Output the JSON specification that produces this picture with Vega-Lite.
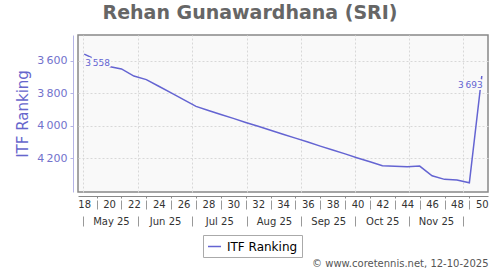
{
  "$schema": "https://vega.github.io/schema/vega-lite/v6.json",
  "width": 410,
  "height": 157,
  "autosize": {"type": "none"},
  "padding": {"left": 78, "top": 35, "right": 12, "bottom": 78},
  "background": "#ffffff",
  "config": {
    "font": "DejaVu Sans",
    "locale": {"number": {"decimal": ".", "thousands": "\u2009", "grouping": [3], "currency": ["", ""]}},
    "view": {"fill": "#f9f9f9", "stroke": "#888888", "strokeWidth": 1.5}
  },
  "title": {
    "text": "Rehan Gunawardhana (SRI)",
    "font": "DejaVu Sans",
    "fontSize": 19,
    "fontWeight": "bold",
    "color": "#666666",
    "anchor": "middle",
    "dx": -33,
    "dy": 17,
    "baseline": "bottom",
    "offset": 10
  },
  "data": {
    "values": [
      {"week": 18, "rank": 3558},
      {"week": 19, "rank": 3593},
      {"week": 20, "rank": 3634},
      {"week": 21, "rank": 3649},
      {"week": 22, "rank": 3693},
      {"week": 23, "rank": 3715},
      {"week": 24, "rank": 3756},
      {"week": 25, "rank": 3797},
      {"week": 26, "rank": 3838},
      {"week": 27, "rank": 3880},
      {"week": 28, "rank": 3905},
      {"week": 29, "rank": 3930},
      {"week": 30, "rank": 3954},
      {"week": 31, "rank": 3979},
      {"week": 32, "rank": 4003},
      {"week": 33, "rank": 4027},
      {"week": 34, "rank": 4052},
      {"week": 35, "rank": 4076},
      {"week": 36, "rank": 4100},
      {"week": 37, "rank": 4125},
      {"week": 38, "rank": 4149},
      {"week": 39, "rank": 4173},
      {"week": 40, "rank": 4198},
      {"week": 41, "rank": 4222},
      {"week": 42, "rank": 4246},
      {"week": 43, "rank": 4249},
      {"week": 44, "rank": 4252},
      {"week": 45, "rank": 4248},
      {"week": 46, "rank": 4308},
      {"week": 47, "rank": 4330},
      {"week": 48, "rank": 4334},
      {"week": 49, "rank": 4351},
      {"week": 50, "rank": 3693}
    ]
  },
  "encoding": {
    "y": {
      "field": "rank",
      "type": "quantitative",
      "scale": {"domain": [3440, 4408], "reverse": true, "nice": false, "zero": false},
      "axis": {
        "values": [3600, 3800, 4000, 4200],
        "format": ",d",
        "offset": 5,
        "domainColor": "#b4b4e6",
        "tickColor": "#b4b4e6",
        "tickSize": 3,
        "labelFontSize": 11,
        "labelColor": "#7272cc",
        "labelPadding": 3,
        "grid": true,
        "gridDash": [2, 2],
        "gridColor": "#d8d8d8",
        "title": "ITF Ranking",
        "titleFontSize": 15,
        "titleColor": "#6666cc",
        "titleFontWeight": "normal",
        "titlePadding": 6
      }
    }
  },
  "resolve": {"axis": {"x": "independent"}},
  "layer": [
    {
      "mark": {"type": "line", "strokeWidth": 1.5},
      "encoding": {
        "x": {
          "field": "week",
          "type": "quantitative",
          "scale": {"domain": [17.5, 50.5], "nice": false, "zero": false},
          "axis": {
            "orient": "bottom",
            "values": [17.93, 22.36, 26.66, 31.08, 35.46, 39.81, 44.15, 48.47],
            "grid": true,
            "gridDash": [2, 2],
            "gridColor": "#d8d8d8",
            "labels": false,
            "ticks": false,
            "domain": false,
            "title": null
          }
        },
        "color": {
          "datum": "ITF Ranking",
          "type": "nominal",
          "scale": {"range": ["#6464d2"]},
          "legend": {
            "orient": "none",
            "legendX": 125,
            "legendY": 200,
            "title": null,
            "symbolType": "stroke",
            "symbolSize": 169,
            "symbolStrokeWidth": 1.5,
            "labelFontSize": 12,
            "labelColor": "#000000",
            "labelOffset": 5,
            "strokeColor": "#aaaaaa",
            "fillColor": "#ffffff",
            "padding": 4
          }
        }
      }
    },
    {
      "mark": {"type": "point", "opacity": 0},
      "encoding": {
        "x": {
          "field": "week",
          "type": "quantitative",
          "scale": {"domain": [17.5, 50.5], "nice": false, "zero": false},
          "axis": {
            "orient": "bottom",
            "offset": 4,
            "values": [19, 21, 23, 25, 27, 29, 31, 33, 35, 37, 39, 41, 43, 45, 47, 49],
            "grid": false,
            "labels": false,
            "ticks": true,
            "tickSize": 2,
            "tickColor": "#888888",
            "domain": true,
            "domainColor": "#888888",
            "title": null
          }
        }
      }
    },
    {
      "mark": {"type": "point", "opacity": 0},
      "encoding": {
        "x": {
          "field": "week",
          "type": "quantitative",
          "scale": {"domain": [17.5, 50.5], "nice": false, "zero": false},
          "axis": {
            "orient": "bottom",
            "offset": 8,
            "values": [19, 21, 23, 25, 27, 29, 31, 33, 35, 37, 39, 41, 43, 45, 47, 49],
            "grid": false,
            "labels": false,
            "ticks": true,
            "tickSize": 9,
            "tickColor": "#999999",
            "domain": false,
            "title": null
          }
        }
      }
    },
    {
      "mark": {"type": "point", "opacity": 0},
      "encoding": {
        "x": {
          "field": "week",
          "type": "quantitative",
          "scale": {"domain": [17.5, 50.5], "nice": false, "zero": false},
          "axis": {
            "orient": "bottom",
            "offset": 4,
            "values": [18, 20, 22, 24, 26, 28, 30, 32, 34, 36, 38, 40, 42, 44, 46, 48, 50],
            "grid": false,
            "labels": true,
            "labelFontSize": 10,
            "labelColor": "#333333",
            "labelPadding": 3,
            "labelFlush": false,
            "labelOverlap": false,
            "ticks": false,
            "domain": false,
            "title": null
          }
        }
      }
    },
    {
      "mark": {"type": "point", "opacity": 0},
      "encoding": {
        "x": {
          "field": "week",
          "type": "quantitative",
          "scale": {"domain": [17.5, 50.5], "nice": false, "zero": false},
          "axis": {
            "orient": "bottom",
            "offset": 24,
            "values": [17.93, 22.36, 26.66, 31.08, 35.46, 39.81, 44.15, 48.47],
            "grid": false,
            "labels": false,
            "ticks": true,
            "tickSize": 10,
            "tickColor": "#999999",
            "domain": false,
            "title": null
          }
        }
      }
    },
    {
      "mark": {"type": "point", "opacity": 0},
      "encoding": {
        "x": {
          "field": "week",
          "type": "quantitative",
          "scale": {"domain": [17.5, 50.5], "nice": false, "zero": false},
          "axis": {
            "orient": "bottom",
            "offset": 20,
            "values": [20.15, 24.51, 28.87, 33.27, 37.64, 41.98, 46.31],
            "labelExpr": "datum.value < 22 ? 'May 25' : datum.value < 26 ? 'Jun 25' : datum.value < 31 ? 'Jul 25' : datum.value < 35 ? 'Aug 25' : datum.value < 39 ? 'Sep 25' : datum.value < 44 ? 'Oct 25' : 'Nov 25'",
            "grid": false,
            "labels": true,
            "labelFontSize": 10,
            "labelColor": "#333333",
            "labelPadding": 4,
            "labelFlush": false,
            "labelOverlap": false,
            "ticks": false,
            "domain": false,
            "title": "\u00a9 www.coretennis.net, 12-10-2025",
            "titleAnchor": "end",
            "titleAlign": "right",
            "titleFontSize": 10,
            "titleFontWeight": "normal",
            "titleColor": "#555555",
            "titlePadding": 32
          }
        }
      }
    },
    {
      "transform": [{"filter": "datum.week == 18"}],
      "mark": {"type": "text", "align": "left", "baseline": "middle", "dx": 1, "dy": 9, "fontSize": 9, "stroke": "#f9f9f9", "strokeWidth": 4, "fill": "#f9f9f9"},
      "encoding": {
        "x": {"field": "week", "type": "quantitative", "scale": {"domain": [17.5, 50.5], "nice": false, "zero": false}, "axis": null},
        "text": {"field": "rank", "type": "quantitative", "format": ",d"}
      }
    },
    {
      "transform": [{"filter": "datum.week == 18"}],
      "mark": {"type": "text", "align": "left", "baseline": "middle", "dx": 1, "dy": 9, "fontSize": 9, "fill": "#6464d2"},
      "encoding": {
        "x": {"field": "week", "type": "quantitative", "scale": {"domain": [17.5, 50.5], "nice": false, "zero": false}, "axis": null},
        "text": {"field": "rank", "type": "quantitative", "format": ",d"}
      }
    },
    {
      "transform": [{"filter": "datum.week == 50"}],
      "mark": {"type": "text", "align": "right", "baseline": "middle", "dx": 1, "dy": 9, "fontSize": 9, "stroke": "#f9f9f9", "strokeWidth": 4, "fill": "#f9f9f9"},
      "encoding": {
        "x": {"field": "week", "type": "quantitative", "scale": {"domain": [17.5, 50.5], "nice": false, "zero": false}, "axis": null},
        "text": {"field": "rank", "type": "quantitative", "format": ",d"}
      }
    },
    {
      "transform": [{"filter": "datum.week == 50"}],
      "mark": {"type": "text", "align": "right", "baseline": "middle", "dx": 1, "dy": 9, "fontSize": 9, "fill": "#6464d2"},
      "encoding": {
        "x": {"field": "week", "type": "quantitative", "scale": {"domain": [17.5, 50.5], "nice": false, "zero": false}, "axis": null},
        "text": {"field": "rank", "type": "quantitative", "format": ",d"}
      }
    }
  ]
}
